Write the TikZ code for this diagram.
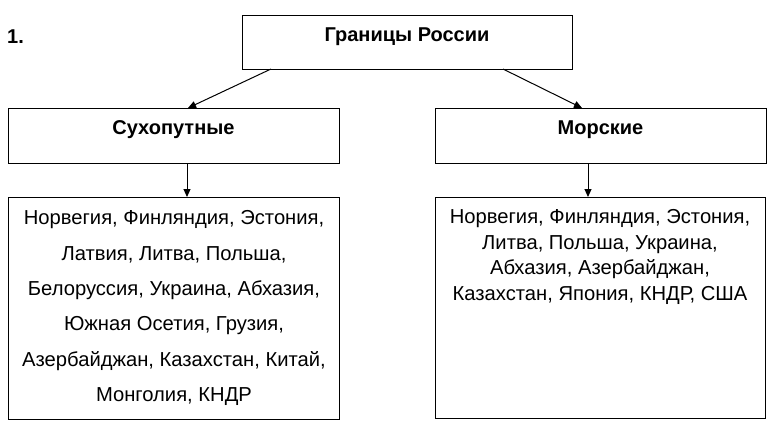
\documentclass[tikz,border=0pt]{standalone}
\usepackage{fontspec}
\setmainfont{Liberation Sans}
\usetikzlibrary{arrows.meta}
\begin{document}
\begin{tikzpicture}[x=1pt,y=-1pt,
  box/.style={draw=black,line width=1pt,minimum width=#1,rectangle,inner sep=0pt},
  head/.style={font=\fontsize{20}{24}\selectfont\bfseries,inner sep=0pt,anchor=base},
  list/.style={font=\fontsize{20.2}{#1}\selectfont,align=center,inner sep=0pt,anchor=north},
  arr/.style={draw=black,line width=1pt,-{Triangle[length=8pt,width=7pt]}}]
\useasboundingbox (0,0) rectangle (773,429);
% boxes
\node[box=330pt,minimum height=54pt] (top) at (407,42) {};
\node[box=331pt,minimum height=55pt] (land) at (173.5,135.5) {};
\node[box=331pt,minimum height=55pt] (sea) at (600.5,135.5) {};
\node[box=331pt,minimum height=222pt] (landlist) at (173.5,308) {};
\node[box=330pt,minimum height=221pt] (sealist) at (600,307.5) {};
% texts
\node[font=\fontsize{20}{24}\selectfont\bfseries,inner sep=0pt,anchor=base west] (num) at (7,43) {1.};
\node[head] (toptext) at (407,41) {Границы России};
\node[head] (landtext) at (173.5,134) {Сухопутные};
\node[head] (seatext) at (600.5,134) {Морские};
\node[list=35.3] (landitems) at (174,210.5) {Норвегия, Финляндия, Эстония,\\Латвия, Литва, Польша,\\Белоруссия, Украина, Абхазия,\\Южная Осетия, Грузия,\\Азербайджан, Казахстан, Китай,\\Монголия, КНДР};
\node[list=25.4] (seaitems) at (600,209.5) {Норвегия, Финляндия, Эстония,\\Литва, Польша, Украина,\\Абхазия, Азербайджан,\\Казахстан, Япония, КНДР, США};
% connectors
\coordinate (t1) at (271,69);
\coordinate (t2) at (503,69);
\coordinate (l1) at (188,108);
\coordinate (s1) at (582,108);
\coordinate (l2) at (187,163);
\coordinate (l3) at (187,197);
\coordinate (s2) at (588,163);
\coordinate (s3) at (588,197);
\draw[arr] (t1) -- (l1);
\draw[arr] (t2) -- (s1);
\draw[arr] (l2) -- (l3);
\draw[arr] (s2) -- (s3);
\end{tikzpicture}
\end{document}
